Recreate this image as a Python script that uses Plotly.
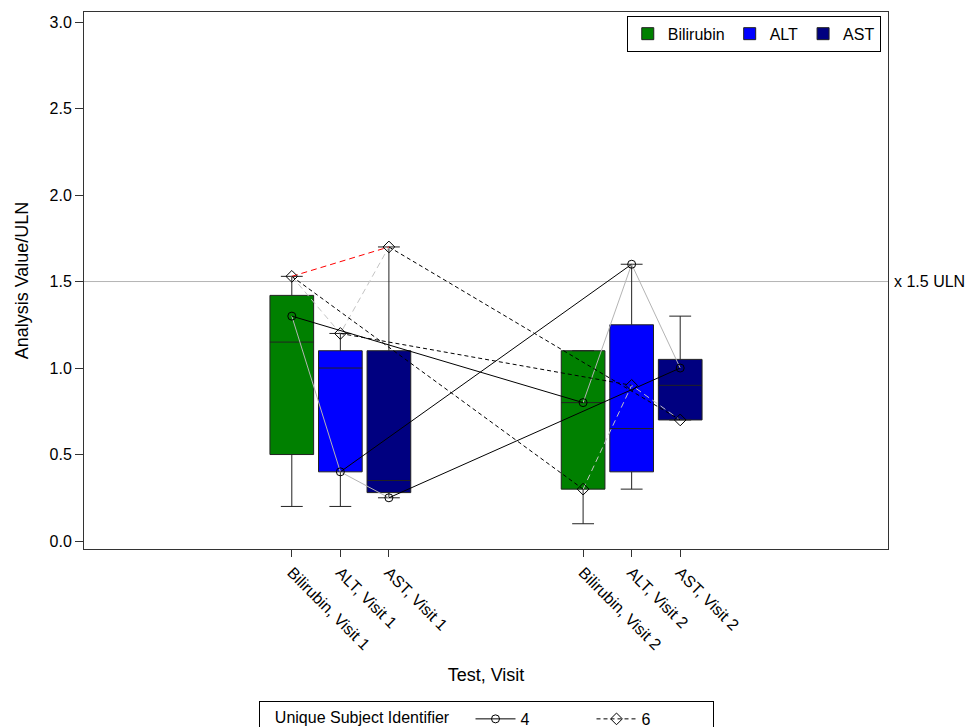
import plotly.graph_objects as go

# ---------------- data ----------------
tick_labels = ["Bilirubin, Visit 1", "ALT, Visit 1", "AST, Visit 1",
               "Bilirubin, Visit 2", "ALT, Visit 2", "AST, Visit 2"]
tick_pos = [0, 1, 2, 6, 7, 8]

tests = ["Bilirubin", "ALT", "AST"]
test_colors = ["#008000", "#0000FF", "#000080"]
# per test: [visit1, visit2]
box_x = {"Bilirubin": [0, 6], "ALT": [1, 7], "AST": [2, 8]}
q1 = {"Bilirubin": [0.50, 0.30], "ALT": [0.40, 0.40], "AST": [0.28, 0.70]}
med = {"Bilirubin": [1.15, 0.80], "ALT": [1.00, 0.65], "AST": [0.35, 0.90]}
q3 = {"Bilirubin": [1.42, 1.10], "ALT": [1.10, 1.25], "AST": [1.10, 1.05]}
lo = {"Bilirubin": [0.20, 0.10], "ALT": [0.20, 0.30], "AST": [0.25, 0.70]}
hi = {"Bilirubin": [1.53, 1.10], "ALT": [1.20, 1.60], "AST": [1.70, 1.30]}

# subject values in order Bili V1, ALT V1, AST V1, Bili V2, ALT V2, AST V2
subj4 = [1.30, 0.40, 0.25, 0.80, 1.60, 1.00]
subj6 = [1.53, 1.20, 1.70, 0.30, 0.90, 0.70]
uln_ref = 1.5

FONT = "Arial, Liberation Sans, sans-serif"

fig = go.Figure()

for t, c in zip(tests, test_colors):
    fig.add_trace(go.Box(
        name=t, x=box_x[t], q1=q1[t], median=med[t], q3=q3[t],
        lowerfence=lo[t], upperfence=hi[t],
        fillcolor=c, line=dict(color="#222222", width=1),
        width=0.9, whiskerwidth=0.5, boxpoints=False,
        legend="legend", hoverinfo="skip"))

def within(vals):
    # connect tests within each visit
    xs = tick_pos[:3] + [None] + tick_pos[3:]
    ys = vals[:3] + [None] + vals[3:]
    return xs, ys

def across(vals):
    # connect same test across visits
    xs, ys = [], []
    for i in range(3):
        xs += [tick_pos[i], tick_pos[i + 3], None]
        ys += [vals[i], vals[i + 3], None]
    return xs[:-1], ys[:-1]

x4w, y4w = within(subj4)
x6w, y6w = within(subj6)
fig.add_trace(go.Scatter(x=x4w, y=y4w, mode="lines", showlegend=False,
                         line=dict(color="#b4b4b4", width=1), hoverinfo="skip"))
fig.add_trace(go.Scatter(x=x6w, y=y6w, mode="lines", showlegend=False,
                         line=dict(color="#c4c4c4", width=1, dash="6px,4px"), hoverinfo="skip"))
# Bilirubin -> AST for subject 6, visit 1 (both above 1.5 x ULN)
fig.add_trace(go.Scatter(x=[tick_pos[0], tick_pos[2]], y=[subj6[0], subj6[2]],
                         mode="lines", showlegend=False,
                         line=dict(color="#ff0000", width=1, dash="6px,4px"), hoverinfo="skip"))

x4a, y4a = across(subj4)
x6a, y6a = across(subj6)
fig.add_trace(go.Scatter(x=x4a, y=y4a, mode="lines+markers", name="4",
                         line=dict(color="black", width=1),
                         marker=dict(symbol="circle-open", size=8, color="black",
                                     line=dict(width=1)),
                         legend="legend2"))
fig.add_trace(go.Scatter(x=x6a, y=y6a, mode="lines+markers", name="6",
                         line=dict(color="black", width=1, dash="4px,3px"),
                         marker=dict(symbol="diamond-open", size=9, color="black",
                                     line=dict(width=1)),
                         legend="legend2"))

fig.add_shape(type="line", xref="paper", x0=0, x1=1, yref="y", y0=uln_ref, y1=uln_ref,
              line=dict(color="#b4b4b4", width=1), layer="below")
fig.add_annotation(xref="paper", x=1, yref="y", y=uln_ref, text="x 1.5 ULN",
                   showarrow=False, xanchor="left", xshift=4,
                   font=dict(size=16, color="black", family=FONT))

fig.update_layout(
    width=970, height=727,
    margin=dict(l=84, r=82, t=12, b=178, autoexpand=False),
    paper_bgcolor="white", plot_bgcolor="white",
    font=dict(family=FONT, size=16, color="black"),
    boxmode="overlay",
    showlegend=True,
    legend=dict(x=0.991, y=0.993, xanchor="right", yanchor="top",
                orientation="h", bordercolor="black", borderwidth=1,
                bgcolor="white", font=dict(size=16), itemwidth=30,
                tracegroupgap=0),
    legend2=dict(x=0.5, y=-0.283, xanchor="center", yanchor="top",
                 orientation="h", bordercolor="black", borderwidth=1,
                 bgcolor="white", font=dict(size=16), itemwidth=40,
                 entrywidth=66,
                 title=dict(text="\u00a0\u00a0\u00a0Unique Subject Identifier\u00a0\u00a0\u00a0",
                            side="left", font=dict(size=16))),
    xaxis=dict(range=[-4.28, 12.28], tickmode="array", tickvals=tick_pos,
               ticktext=tick_labels, tickangle=45, ticks="outside", ticklen=7,
               tickcolor="#333333", showgrid=False, zeroline=False,
               showline=True, linecolor="#333333", linewidth=1, mirror=True,
               tickfont=dict(size=16),
               title=dict(text="Test, Visit", font=dict(size=18), standoff=16)),
    yaxis=dict(range=[-0.046, 3.058], tickmode="array",
               tickvals=[0, 0.5, 1.0, 1.5, 2.0, 2.5, 3.0], tickformat=".1f",
               ticks="outside", ticklen=8, tickcolor="#333333",
               showgrid=False, zeroline=False,
               showline=True, linecolor="#333333", linewidth=1, mirror=True,
               tickfont=dict(size=16),
               title=dict(text="Analysis Value/ULN", font=dict(size=18), standoff=16)),
)

fig.write_html("out.html")
